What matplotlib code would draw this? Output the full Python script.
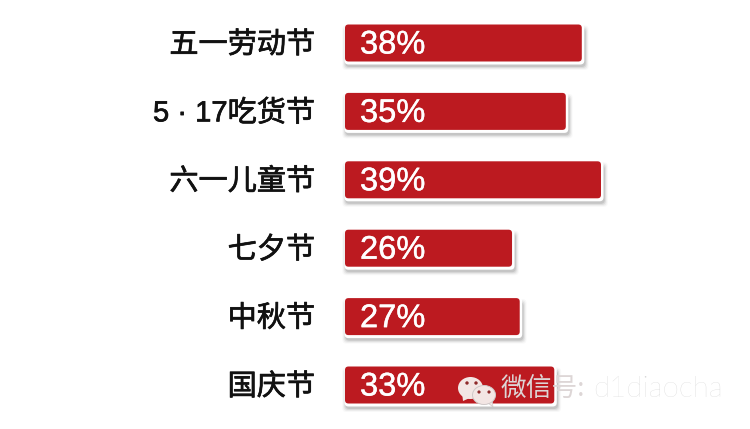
import matplotlib
matplotlib.use("Agg")
import matplotlib.pyplot as plt
import matplotlib.patheffects as pe
from matplotlib.patches import FancyBboxPatch, Ellipse, Polygon

plt.rcParams['font.family'] = ['Noto Sans CJK SC', 'DejaVu Sans']

categories = ['五一劳动节', '5 · 17吃货节', '六一儿童节', '七夕节', '中秋节', '国庆节']
pct_labels = ['38%', '35%', '39%', '26%', '27%', '33%']
bar_lengths = [37.0, 34.5, 40.0, 26.1, 27.3, 32.7]

W, H = 750, 429
PX_X = 6.4      # pixels per percent
PX_Y = 68.4     # pixels per category
X0, Y0 = 345, 43

fig = plt.figure(figsize=(W / 100, H / 100), dpi=100, facecolor='white')
ax = fig.add_axes([0, 0, 1, 1])
ax.set_xlim(-X0 / PX_X, (W - X0) / PX_X)
ax.set_ylim((H - Y0) / PX_Y, -Y0 / PX_Y)
ax.axis('off')

BH = 37 / PX_Y
ASPECT = (1 / PX_Y) / (1 / PX_X)


def rbox(x, y, w, h, r_px, **kw):
    p = FancyBboxPatch((x, y), w, h,
                       boxstyle=f"round,pad=0,rounding_size={r_px / PX_X}",
                       mutation_aspect=ASPECT, linewidth=0, **kw)
    ax.add_patch(p)
    return p


for i, (cat, lab, v) in enumerate(zip(categories, pct_labels, bar_lengths)):
    top = i - BH / 2
    # soft shadow layers
    for grow, a in ((3.0, 0.04), (2.0, 0.07), (1.0, 0.11), (0.0, 0.16)):
        rbox(0.3 / PX_X - grow / PX_X, top + (4.0 - grow) / PX_Y,
             v + (3.5 + 2 * grow) / PX_X, BH + (1.5 + 2 * grow) / PX_Y, 4,
             facecolor='#555555', alpha=a, zorder=1)
    # white rim
    rbox(-0.5 / PX_X, top - 0.5 / PX_Y, v + 3.0 / PX_X, BH + 3.5 / PX_Y, 4,
         facecolor='white', zorder=2)
    # bar
    rbox(0, top, v, BH, 3.5, facecolor='#BC1A20', zorder=3)
    ax.annotate(lab, (0, i), xytext=(15, -2), textcoords='offset pixels',
                ha='left', va='center', color='white', fontsize=23.5,
                family=['Liberation Sans'], zorder=4,
                path_effects=[pe.withStroke(linewidth=0.3, foreground='white')])
    fam = ['Liberation Sans', 'Noto Sans CJK SC'] if cat[0].isdigit() else ['Noto Sans CJK SC', 'DejaVu Sans']
    ax.annotate(cat, (0, i), xytext=(-30, -2), textcoords='offset pixels',
                ha='right', va='center', color='#111111', fontsize=21,
                family=fam, zorder=4,
                path_effects=[pe.withStroke(linewidth=0.5, foreground='#111111')])

# WeChat watermark, in a pixel-coordinates overlay
ov = fig.add_axes([0, 0, 1, 1], facecolor='none')
ov.set_xlim(0, W)
ov.set_ylim(H, 0)
ov.axis('off')
edge = '#CFC8C8'
bub = '#F3E6E4'
ov.add_patch(Polygon([(462, 392), (463, 401), (472, 397)], facecolor=bub, edgecolor='none', zorder=5))
ov.add_patch(Ellipse((470.5, 388), 25, 22, facecolor=bub, edgecolor='none', zorder=5))
for cx in (467, 476):
    ov.add_patch(Ellipse((cx, 383), 3.4, 3.4, facecolor='#8E2A2A', edgecolor='none', zorder=6))
ov.add_patch(Polygon([(487, 402), (493, 407), (492, 399)], facecolor=bub, edgecolor=edge, linewidth=0.5, zorder=6))
ov.add_patch(Ellipse((484, 395), 23, 19, facecolor=bub, edgecolor=edge, linewidth=0.7, zorder=6))
for cx in (479, 489):
    ov.add_patch(Ellipse((cx, 392), 3.2, 3.2, facecolor='#8E2A2A', edgecolor='none', zorder=7))
ov.text(501, 389, '微信号:', ha='left', va='center', fontsize=18.5, color='#DDD6D6', zorder=8)
ov.text(593, 389, 'd1diaocha', ha='left', va='center', fontsize=21.3, color='#D6D6D6',
        zorder=8, family=['Lato'], fontweight='light')

fig.savefig('out.png', dpi=100, facecolor='white')
